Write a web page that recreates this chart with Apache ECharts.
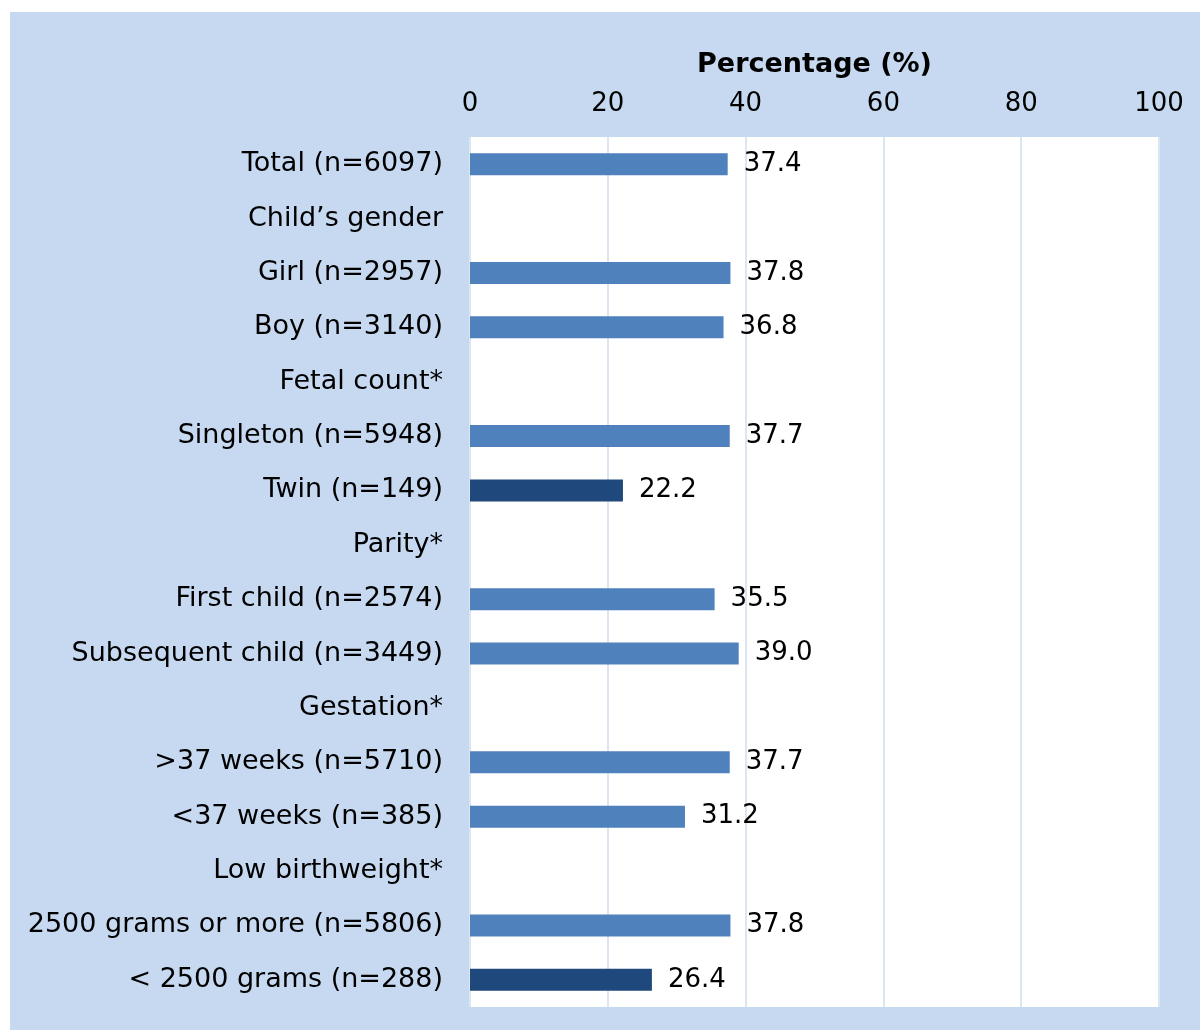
<!DOCTYPE html>
<html>
<head>
<meta charset="utf-8">
<script src="https://cdn.jsdelivr.net/npm/echarts@6/dist/echarts.min.js"></script>
<style>
  html,body{margin:0;padding:0;background:#fff;}
  #main{position:absolute;left:10px;top:12px;width:1190px;height:1018px;}
</style>
</head>
<body>
<div id="main"></div>
<script>
var categories = ['Total (n=6097)','Child\u2019s gender','Girl (n=2957)','Boy (n=3140)','Fetal count*',
	'Singleton (n=5948)','Twin (n=149)','Parity*','First child (n=2574)','Subsequent child (n=3449)',
	'Gestation*','>37 weeks (n=5710)','<37 weeks (n=385)','Low birthweight*',
	'2500 grams or more (n=5806)','< 2500 grams (n=288)'];
var values = [37.4,null,37.8,36.8,null,37.7,22.2,null,35.5,39.0,null,37.7,31.2,null,37.8,26.4];
// rows that are highlighted in the darker blue
var dark = [false,false,false,false,false,false,true,false,false,false,false,false,false,false,false,true];
var xTicks = [0,20,40,60,80,100];

var font = 'DejaVu Sans';
var myChart = echarts.init(document.getElementById('main'));

var barData = [];
for(var i=0;i<values.length;i++){
	barData.push({
		value:values[i],
		itemStyle:{color:dark[i]?'#1f497d':'#4f81bd'}
	});
}

var option = {
	backgroundColor:'#c6d9f0',
	animation:false,
	grid:{
		left:460,top:125,width:689,height:870,
		show:true,backgroundColor:'#ffffff',borderWidth:0
	},
	xAxis:{
		type:'value',
		position:'top',
		min:xTicks[0],
		max:xTicks[xTicks.length-1],
		interval:20,
		name:'Percentage (%)',
		nameLocation:'middle',
		nameGap:59,
		nameTextStyle:{fontFamily:font,fontSize:27,fontWeight:'bold',color:'#000'},
		axisLine:{show:false},
		axisTick:{show:false},
		axisLabel:{fontFamily:font,fontSize:26,color:'#000',margin:20},
		splitLine:{show:true,lineStyle:{color:'#dce6f2',width:2}}
	},
	yAxis:{
		type:'category',
		inverse:true,
		data:categories,
		axisLine:{show:false},
		axisTick:{show:false},
		axisLabel:{fontFamily:font,fontSize:27,color:'#000',margin:27}
	},
	series:[{
		type:'bar',
		data:barData,
		barWidth:22,
		label:{
			show:true,
			position:'right',
			distance:16,
			fontFamily:font,
			fontSize:26,
			color:'#000',
			formatter:function(p){
				return p.value==null?'':p.value.toFixed(1);
			}
		}
	}]
};

myChart.setOption(option);
</script>
</body>
</html>
